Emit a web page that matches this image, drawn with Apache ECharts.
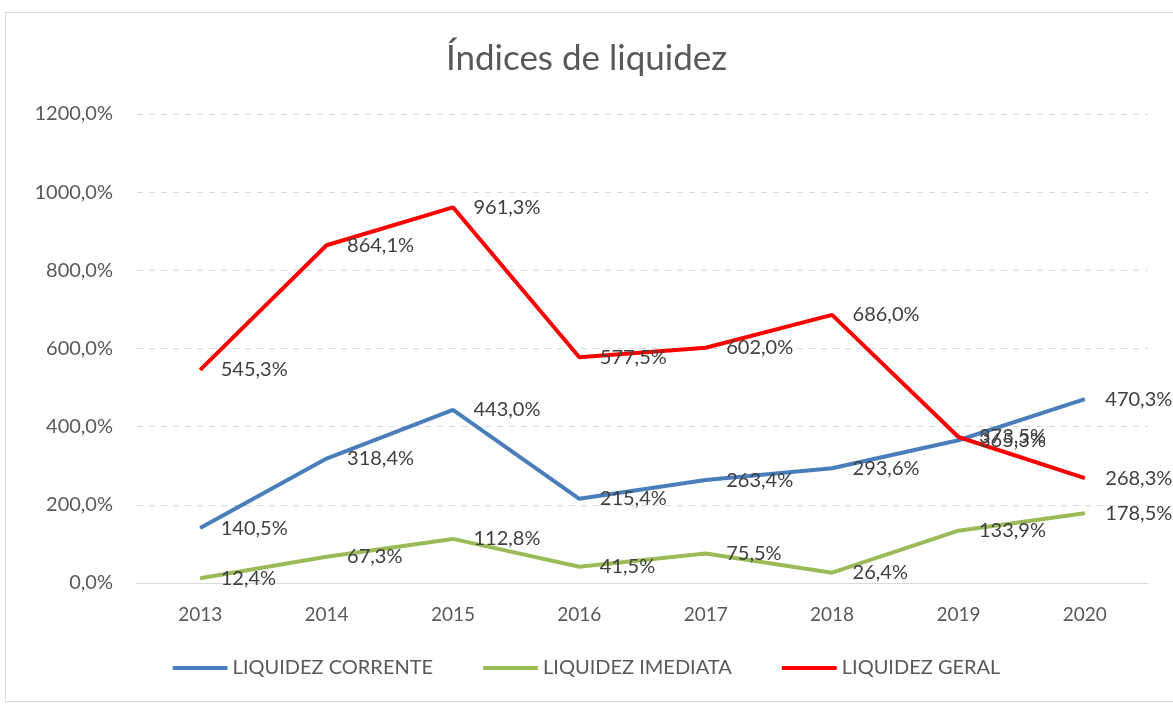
<!DOCTYPE html>
<html>
<head>
<meta charset="utf-8">
<script src="https://cdn.jsdelivr.net/npm/echarts@6/dist/echarts.min.js"></script>
<style>
  html, body { margin: 0; padding: 0; background: #fff; }
  #frame { position: absolute; left: 5px; top: 12px; width: 1175px; height: 690px; border: 1px solid #d9d9d9; box-sizing: border-box; }
  #chart { width: 1173px; height: 705px; }
</style>
</head>
<body>
<div id="frame"></div>
<div id="chart"></div>
<script>
const anos = ["2013", "2014", "2015", "2016", "2017", "2018", "2019", "2020"];
const liquidezCorrente = [140.5, 318.4, 443.0, 215.4, 263.4, 293.6, 365.3, 470.3];
const liquidezImediata = [12.4, 67.3, 112.8, 41.5, 75.5, 26.4, 133.9, 178.5];
const liquidezGeral = [545.3, 864.1, 961.3, 577.5, 602.0, 686.0, 373.5, 268.3];

const fmt = v => v.toFixed(1).replace(".", ",") + "%";
const fonte = "Lato, 'Open Sans', sans-serif";

const chartDom = document.getElementById("chart");
const myChart = echarts.init(chartDom);

function serie(nome, dados, cor) {
    return {
        name: nome,
        type: "line",
        data: dados,
        symbol: "circle",
        symbolSize: 1,
        showSymbol: true,
        lineStyle: { color: cor, width: 4 },
        itemStyle: { color: cor },
        label: {
            show: true,
            position: "right",
            distance: 20,
            color: "#404040",
            fontSize: 20,
            fontFamily: fonte,
            formatter: p => fmt(p.value)
        }
    };
}

const option = {
    animation: false,
    title: {
        text: "Índices de liquidez",
        left: "center",
        top: 36,
        textStyle: { color: "#595959", fontSize: 35, fontWeight: "normal", fontFamily: fonte }
    },
    legend: {
        bottom: 22,
        left: "center",
        itemGap: 50,
        itemWidth: 55,
        itemHeight: 4,
        icon: "roundRect",
        textStyle: { color: "#595959", fontSize: 20, fontFamily: fonte },
        data: ["LIQUIDEZ CORRENTE", "LIQUIDEZ IMEDIATA", "LIQUIDEZ GERAL"]
    },
    grid: {
        left: 137,
        right: 25,
        top: 114,
        bottom: 122
    },
    xAxis: {
        type: "category",
        data: anos,
        boundaryGap: true,
        axisLine: { show: true, lineStyle: { color: "#d9d9d9" } },
        axisTick: { show: false },
        axisLabel: { color: "#595959", fontSize: 19, fontFamily: fonte, margin: 22 }
    },
    yAxis: {
        type: "value",
        min: 0,
        max: 1200,
        interval: 200,
        axisLine: { show: false },
        axisTick: { show: false },
        axisLabel: { color: "#595959", fontSize: 20, fontFamily: fonte, margin: 24, formatter: v => fmt(v) },
        splitLine: { lineStyle: { color: "#d9d9d9", type: [6, 6] } }
    },
    series: [
        serie("LIQUIDEZ CORRENTE", liquidezCorrente, "#4a7ebb"),
        serie("LIQUIDEZ IMEDIATA", liquidezImediata, "#9bbb59"),
        serie("LIQUIDEZ GERAL", liquidezGeral, "#ff0000")
    ]
};

myChart.setOption(option);
</script>
</body>
</html>
